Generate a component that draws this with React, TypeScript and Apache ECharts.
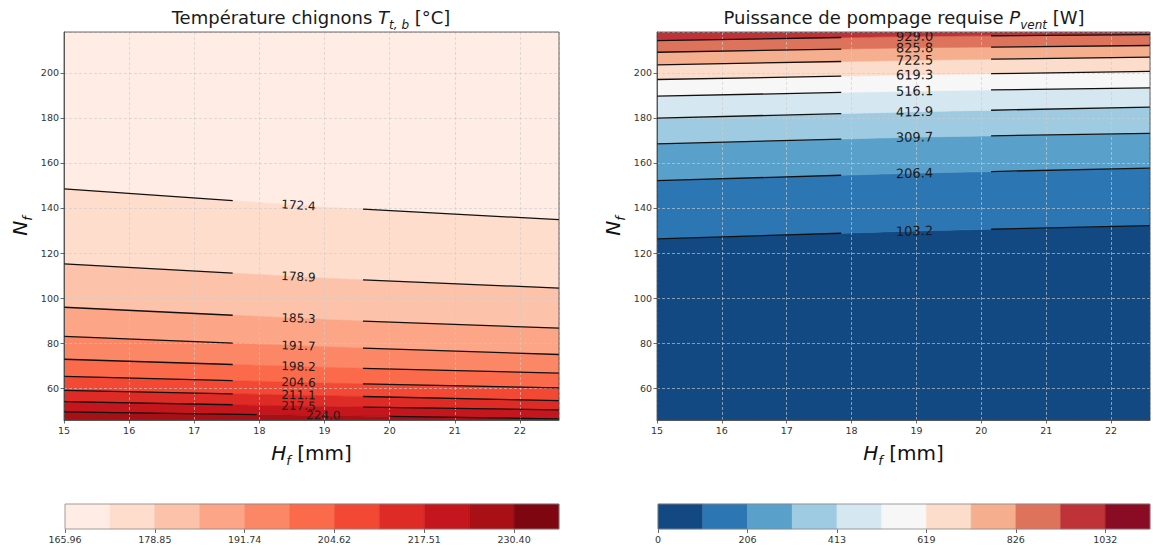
import React, { useEffect, useRef } from "react";
import * as echarts from "echarts";

// ---------- data ----------
const hfMin = 15;
const hfMax = 22.6;
const nfMin = 45.8;
const nfMax = 218.2;
// H_f positions at which each contour's N_f is read
const contourHf = [15, 19, 22.6];

// Température chignons contours
const tempLevels = [172.4, 178.9, 185.3, 191.7, 198.2, 204.6, 211.1, 217.5, 224.0];
const tempNfAtHf15 = [148.5, 115.2, 95.9, 83.0, 72.8, 65.2, 59.0, 54.0, 49.4];
const tempNfAtHf19 = [140.4, 108.8, 90.4, 78.3, 69.2, 62.2, 56.6, 51.8, 47.8];
const tempNfAtHf226 = [134.8, 104.4, 86.6, 74.9, 66.6, 60.1, 54.4, 50.3, 46.3];
const tempColors = ["#ffede5", "#feddcd", "#fcc2aa", "#fca587", "#fc8767", "#fb6a4a", "#f24834", "#df2b25", "#c4161c", "#a91016", "#7e0610"];
const tempCbarLabels = ["165.96", "178.85", "191.74", "204.62", "217.51", "230.40"];

// Puissance de pompage contours
const powerLevels = [103.2, 206.4, 309.7, 412.9, 516.1, 619.3, 722.5, 825.8, 929.0];
const powerNfAtHf15 = [126.3, 152.2, 168.5, 179.9, 189.7, 197.1, 203.6, 209.2, 214.4];
const powerNfAtHf19 = [129.8, 155.5, 171.5, 182.8, 192.0, 199.2, 205.7, 211.2, 216.3];
const powerNfAtHf226 = [132.2, 157.7, 173.2, 184.8, 193.4, 200.7, 207.0, 212.2, 217.0];
const powerColors = ["#124983", "#2d76b4", "#59a1ca", "#9ecbe1", "#d5e7f1", "#f7f7f7", "#fcddcb", "#f6af8e", "#de735b", "#bf3237", "#890b24"];
const powerCbarLabels = ["0", "206", "413", "619", "826", "1032"];

// ---------- layout (label placement / gaps around inline labels) ----------
const tempLabelHf = [18.6, 18.6, 18.6, 18.6, 18.6, 18.6, 18.6, 18.6, 18.98];
const tempGaps = [
  [17.59, 19.59], [17.59, 19.59], [17.59, 19.59], [17.59, 19.59], [17.59, 19.59],
  [17.59, 19.59], [17.59, 19.59], [17.59, 19.59], [17.96, 20.01],
];
const powerLabelHf = [18.97, 18.97, 18.97, 18.97, 18.97, 18.97, 18.97, 18.97, 18.97];
const powerGaps = powerLevels.map(() => [17.84, 20.15]);

const FONT = "'DejaVu Sans', sans-serif";

function buildLines(a: number[], b: number[], c: number[]) {
  return a.map((_, i) => [
    [contourHf[0], a[i]],
    [contourHf[1], b[i]],
    [contourHf[2], c[i]],
  ]);
}

function interp(line: number[][], x: number) {
  for (let k = 0; k < line.length - 1; k++) {
    const [x0, y0] = line[k];
    const [x1, y1] = line[k + 1];
    if (x >= x0 && x <= x1) return y0 + ((x - x0) / (x1 - x0)) * (y1 - y0);
  }
  return x < line[0][0] ? line[0][1] : line[line.length - 1][1];
}

function fillRender(lines: number[][][], colors: string[], edgeFirst: number, edgeLast: number) {
  return (_p: any, api: any) => {
    const j = api.value(2);
    const edge = (v: number) => [[hfMin - 1, v], [hfMax + 1, v]];
    const a = j === 0 ? edge(edgeFirst) : lines[j - 1];
    const b = j === lines.length ? edge(edgeLast) : lines[j];
    const pts = a.concat(b.slice().reverse()).map((p) => api.coord(p));
    return {
      type: "polygon",
      shape: { points: pts },
      style: { fill: colors[j], stroke: colors[j], lineWidth: 0.6 },
    };
  };
}

function lineRender(lines: number[][][], gaps: number[][], labelHf: number[], levels: number[], fontSize: number) {
  return (_p: any, api: any) => {
    const i = api.value(2);
    const pts = lines[i];
    const [g0, g1] = gaps[i];
    const leftPts = pts.filter((p) => p[0] < g0).concat([[g0, interp(pts, g0)]]);
    const rightPts = [[g1, interp(pts, g1)]].concat(pts.filter((p) => p[0] > g1));
    const px = (arr: number[][]) => arr.map((p) => api.coord(p));
    const lx = labelHf[i];
    const c = api.coord([lx, interp(pts, lx)]);
    const a = api.coord([g0, interp(pts, g0)]);
    const b = api.coord([g1, interp(pts, g1)]);
    const rot = -Math.atan2(b[1] - a[1], b[0] - a[0]);
    const ls = { stroke: "#111", lineWidth: 1.3, fill: "none" };
    return {
      type: "group",
      children: [
        { type: "polyline", shape: { points: px(leftPts) }, style: ls },
        { type: "polyline", shape: { points: px(rightPts) }, style: ls },
        {
          type: "text",
          x: c[0],
          y: c[1],
          rotation: rot,
          style: {
            text: levels[i].toFixed(1),
            fill: "#1a1a1a",
            fontSize,
            fontFamily: FONT,
            align: "center",
            verticalAlign: "middle",
          },
        },
      ],
    };
  };
}

function cbarRender(colors: string[]) {
  return (_p: any, api: any) => {
    const i = api.value(2);
    const p0 = api.coord([i, 0]);
    const p1 = api.coord([i + 1, 1]);
    return {
      type: "rect",
      shape: { x: p0[0], y: p1[1], width: p1[0] - p0[0], height: p0[1] - p1[1] },
      style: { fill: colors[i], stroke: colors[i], lineWidth: 0.5 },
    };
  };
}

const nameRich = {
  i: { fontStyle: "italic", fontSize: 20, fontFamily: FONT, color: "#111" },
  s: { fontStyle: "italic", fontSize: 13, fontFamily: FONT, color: "#111", verticalAlign: "bottom", lineHeight: 28 },
};

function plotX(gridIndex: number) {
  return {
    type: "value",
    gridIndex,
    min: hfMin,
    max: hfMax,
    interval: 1,
    z: 3,
    name: "{i|H}{s|f} [mm]",
    nameLocation: "middle",
    nameGap: 19,
    nameTextStyle: { fontSize: 20, fontFamily: FONT, color: "#111", rich: nameRich },
    axisLine: { show: true, lineStyle: { color: "#444", width: 0.8 } },
    axisTick: { show: true, length: 3.5, lineStyle: { color: "#444", width: 0.8 } },
    axisLabel: {
      fontSize: 9.5,
      color: "#333",
      fontFamily: FONT,
      margin: 5,
      showMaxLabel: false,
      formatter: (v: number) => (Number.isInteger(v) ? String(v) : ""),
    },
    splitLine: { show: true, lineStyle: { color: "rgba(205,205,205,0.8)", type: [3, 2], width: 0.8 } },
  };
}

function plotY(gridIndex: number) {
  return {
    type: "value",
    gridIndex,
    min: nfMin,
    max: nfMax,
    splitNumber: 8,
    minInterval: 20,
    maxInterval: 20,
    z: 3,
    name: "{i|N}{s|f}",
    nameLocation: "middle",
    nameRotate: 90,
    nameGap: 30,
    nameTextStyle: { fontSize: 20, fontFamily: FONT, color: "#111", rich: nameRich },
    axisLine: { show: true, lineStyle: { color: "#444", width: 0.8 } },
    axisTick: { show: true, length: 3.5, lineStyle: { color: "#444", width: 0.8 } },
    axisLabel: {
      fontSize: 9.5,
      color: "#333",
      fontFamily: FONT,
      margin: 5,
      showMinLabel: false,
      showMaxLabel: false,
      formatter: (v: number) => (Math.abs(v % 20) < 1e-6 ? String(v) : ""),
    },
    splitLine: { show: true, lineStyle: { color: "rgba(205,205,205,0.8)", type: [3, 2], width: 0.8 } },
  };
}

function cbarX(gridIndex: number, labels: string[]) {
  return {
    type: "value",
    gridIndex,
    min: 0,
    max: 11,
    interval: 2,
    axisLine: { show: false },
    axisTick: { show: true, length: 4, lineStyle: { color: "#444", width: 0.8 } },
    axisLabel: {
      fontSize: 9.5,
      color: "#333",
      fontFamily: FONT,
      margin: 5,
      showMaxLabel: false,
      formatter: (v: number) => (v % 2 === 0 && v / 2 < labels.length ? labels[v / 2] : ""),
    },
    splitLine: { show: false },
  };
}

function cbarY(gridIndex: number) {
  return { type: "value", gridIndex, min: 0, max: 1, show: false };
}

function titleRich() {
  return {
    i: { fontStyle: "italic", fontSize: 18, fontFamily: FONT, fill: "#1a1a1a" },
    s: { fontStyle: "italic", fontSize: 12, fontFamily: FONT, fill: "#1a1a1a", verticalAlign: "bottom", lineHeight: 27 },
  };
}

function buildOption() {
  const tempLines = buildLines(tempNfAtHf15, tempNfAtHf19, tempNfAtHf226);
  const powerLines = buildLines(powerNfAtHf15, powerNfAtHf19, powerNfAtHf226);
  const bandData = (n: number) => Array.from({ length: n + 1 }, (_, j) => [hfMin, nfMin, j]);
  const lineData = (n: number) => Array.from({ length: n }, (_, i) => [hfMin, nfMin, i]);
  const cbarData = (n: number) => Array.from({ length: n }, (_, i) => [i, 0, i]);

  const gridBorder = { show: true, borderColor: "#444", borderWidth: 0.8, backgroundColor: "transparent", z: 6 };

  return {
    animation: false,
    backgroundColor: "#fff",
    textStyle: { fontFamily: FONT },
    grid: [
      { left: 64, top: 32, width: 495, height: 388, ...gridBorder },
      { left: 657, top: 32, width: 493, height: 388, ...gridBorder },
      { left: 65, top: 504, width: 494, height: 25, ...gridBorder, borderColor: "#888" },
      { left: 658, top: 504, width: 492, height: 25, ...gridBorder, borderColor: "#888" },
    ],
    xAxis: [plotX(0), plotX(1), cbarX(2, tempCbarLabels), cbarX(3, powerCbarLabels)],
    yAxis: [plotY(0), plotY(1), cbarY(2), cbarY(3)],
    graphic: [
      {
        type: "text",
        x: 311,
        y: 17,
        style: {
          text: "Température chignons {i|T}{s|t, b} [°C]",
          fontSize: 18,
          fontFamily: FONT,
          fill: "#1a1a1a",
          align: "center",
          verticalAlign: "middle",
          rich: titleRich(),
        },
      },
      {
        type: "text",
        x: 904,
        y: 17,
        style: {
          text: "Puissance de pompage requise {i|P}{s|vent} [W]",
          fontSize: 18,
          fontFamily: FONT,
          fill: "#1a1a1a",
          align: "center",
          verticalAlign: "middle",
          rich: titleRich(),
        },
      },
    ],
    series: [
      {
        type: "custom",
        xAxisIndex: 0,
        yAxisIndex: 0,
        clip: true,
        silent: true,
        z: 2,
        data: bandData(tempLevels.length),
        renderItem: fillRender(tempLines, tempColors, nfMax + 10, nfMin - 10),
      },
      {
        type: "custom",
        xAxisIndex: 0,
        yAxisIndex: 0,
        clip: true,
        silent: true,
        z: 4,
        data: lineData(tempLevels.length),
        renderItem: lineRender(tempLines, tempGaps, tempLabelHf, tempLevels, 12),
      },
      {
        type: "custom",
        xAxisIndex: 1,
        yAxisIndex: 1,
        clip: true,
        silent: true,
        z: 2,
        data: bandData(powerLevels.length),
        renderItem: fillRender(powerLines, powerColors, nfMin - 10, nfMax + 10),
      },
      {
        type: "custom",
        xAxisIndex: 1,
        yAxisIndex: 1,
        clip: true,
        silent: true,
        z: 4,
        data: lineData(powerLevels.length),
        renderItem: lineRender(powerLines, powerGaps, powerLabelHf, powerLevels, 13),
      },
      {
        type: "custom",
        xAxisIndex: 2,
        yAxisIndex: 2,
        silent: true,
        data: cbarData(tempColors.length),
        renderItem: cbarRender(tempColors),
      },
      {
        type: "custom",
        xAxisIndex: 3,
        yAxisIndex: 3,
        silent: true,
        data: cbarData(powerColors.length),
        renderItem: cbarRender(powerColors),
      },
    ],
  };
}

export default function App() {
  const ref = useRef<HTMLDivElement>(null);
  useEffect(() => {
    document.body.style.margin = "0";
    const chart = echarts.init(ref.current as HTMLDivElement, undefined, { renderer: "svg" });
    chart.setOption(buildOption() as any);
    return () => chart.dispose();
  }, []);
  return <div ref={ref} style={{ width: 1153, height: 548 }} />;
}
